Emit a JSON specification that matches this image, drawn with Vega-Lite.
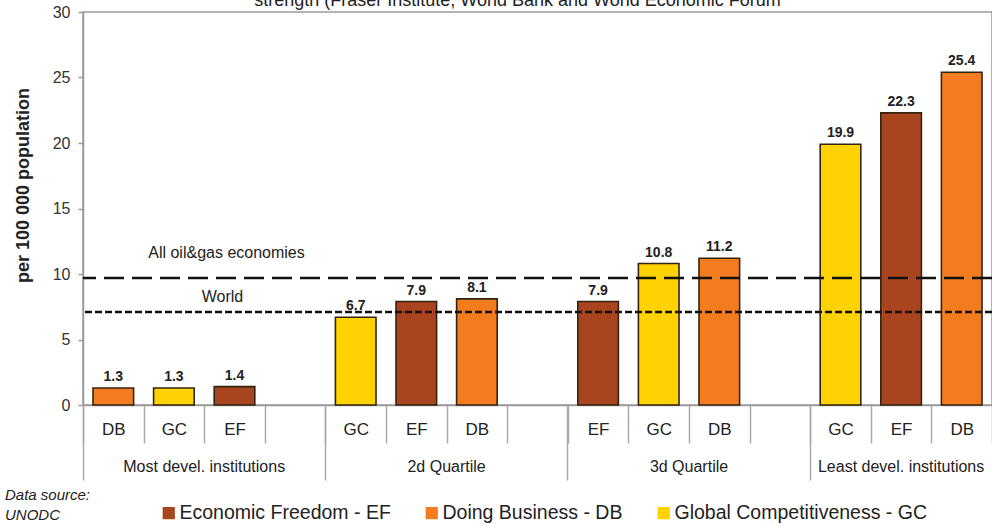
{
  "$schema": "https://vega.github.io/schema/vega-lite/v6.json",
  "autosize": "none",
  "width": 909,
  "height": 393,
  "padding": {"left": 83, "top": 12, "right": 0, "bottom": 119},
  "background": "white",
  "config": {
    "font": "Liberation Sans",
    "view": {"stroke": "#9a9a9a", "strokeWidth": 1.5}
  },
  "title": {
    "text": "strength (Fraser Institute, World Bank and World Economic Forum",
    "fontSize": 18,
    "fontWeight": "normal",
    "color": "#222222",
    "anchor": "middle",
    "dx": -20,
    "offset": -20,
    "baseline": "alphabetic"
  },
  "datasets": {
    "bars": [
      {"slot": "1 DB", "code": "DB", "series": "Doing Business - DB", "value": 1.3},
      {"slot": "1 GC", "code": "GC", "series": "Global Competitiveness - GC", "value": 1.3},
      {"slot": "1 EF", "code": "EF", "series": "Economic Freedom - EF", "value": 1.4},
      {"slot": "2 GC", "code": "GC", "series": "Global Competitiveness - GC", "value": 6.7},
      {"slot": "2 EF", "code": "EF", "series": "Economic Freedom - EF", "value": 7.9},
      {"slot": "2 DB", "code": "DB", "series": "Doing Business - DB", "value": 8.1},
      {"slot": "3 EF", "code": "EF", "series": "Economic Freedom - EF", "value": 7.9},
      {"slot": "3 GC", "code": "GC", "series": "Global Competitiveness - GC", "value": 10.8},
      {"slot": "3 DB", "code": "DB", "series": "Doing Business - DB", "value": 11.2},
      {"slot": "4 GC", "code": "GC", "series": "Global Competitiveness - GC", "value": 19.9},
      {"slot": "4 EF", "code": "EF", "series": "Economic Freedom - EF", "value": 22.3},
      {"slot": "4 DB", "code": "DB", "series": "Doing Business - DB", "value": 25.4}
    ],
    "refs": [
      {"name": "All oil&gas economies", "value": 9.7},
      {"name": "World", "value": 7.1}
    ]
  },
  "encoding": {
    "y": {
      "field": "value",
      "type": "quantitative",
      "scale": {"domain": [0, 30], "nice": false, "zero": true},
      "axis": {
        "title": "per 100 000 population",
        "titleFontSize": 18,
        "titleFontWeight": "bold",
        "titleColor": "#222222",
        "titlePadding": 20,
        "titleY": 173,
        "values": [0, 5, 10, 15, 20, 25, 30],
        "labelFontSize": 16,
        "labelColor": "#333333",
        "labelPadding": 8,
        "tickSize": 5,
        "tickColor": "#9a9a9a",
        "tickWidth": 1.5,
        "domainColor": "#9a9a9a",
        "domainWidth": 1.5,
        "grid": false
      }
    }
  },
  "layer": [
    {
      "data": {"name": "bars"},
      "mark": {"type": "bar", "width": {"band": 0.67}, "stroke": "#33240f", "strokeWidth": 1.6},
      "encoding": {
        "x": {
          "field": "slot",
          "type": "nominal",
          "scale": {
            "domain": ["1 DB", "1 GC", "1 EF", "1 -", "2 GC", "2 EF", "2 DB", "2 -", "3 EF", "3 GC", "3 DB", "3 -", "4 GC", "4 EF", "4 DB"],
            "paddingInner": 0,
            "paddingOuter": 0
          },
          "axis": {
            "orient": "bottom",
            "title": null,
            "labelExpr": "split(datum.value, ' ')[1] == '-' ? '' : split(datum.value, ' ')[1]",
            "labelAngle": 0,
            "labelFontSize": 17,
            "labelColor": "#222222",
            "labelPadding": -22,
            "tickBand": "extent",
            "tickSize": 38,
            "tickColor": "#aaaaaa",
            "tickWidth": 1.5,
            "domainColor": "#9a9a9a",
            "domainWidth": 1.5
          }
        },
        "color": {
          "field": "series",
          "type": "nominal",
          "scale": {
            "domain": ["Economic Freedom - EF", "Doing Business - DB", "Global Competitiveness - GC"],
            "range": ["#A8451E", "#F47C20", "#FFD200"]
          },
          "legend": {
            "orient": "none",
            "legendX": -78,
            "legendY": 491,
            "direction": "horizontal",
            "title": ["Data source:", "UNODC"],
            "titleOrient": "left",
            "titleAnchor": "end",
            "titleFontStyle": "italic",
            "titleFontWeight": "normal",
            "titleFontSize": 15,
            "titleColor": "#222222",
            "titleLineHeight": 20,
            "titlePadding": 68,
            "symbolType": "square",
            "symbolSize": 150,
            "symbolStrokeWidth": 0,
            "labelFontSize": 19.5,
            "labelLimit": 400,
            "labelColor": "#222222",
            "labelOffset": 1,
            "columnPadding": 31
          }
        }
      }
    },
    {
      "data": {"name": "bars"},
      "mark": {"type": "text", "fontWeight": "bold", "fontSize": 14, "color": "#222222", "baseline": "alphabetic", "dy": -7},
      "encoding": {
        "x": {
          "field": "slot",
          "type": "nominal",
          "axis": {
            "orient": "bottom",
            "title": null,
            "values": ["1 DB", "2 GC", "3 EF", "4 GC"],
            "bandPosition": 0,
            "labelExpr": "datum.value == '1 DB' ? 'Most devel. institutions' : datum.value == '2 GC' ? '2d Quartile' : datum.value == '3 EF' ? '3d Quartile' : 'Least devel. institutions'",
            "labelAngle": 0,
            "labelFontSize": 16,
            "labelColor": "#222222",
            "labelOffset": {"condition": {"test": "datum.value == '4 GC'", "value": 60.6}, "value": 90.9},
            "labelPadding": -22,
            "tickSize": 75,
            "tickColor": "#aaaaaa",
            "tickWidth": 1.5,
            "domain": false
          }
        },
        "text": {"field": "value", "type": "quantitative", "format": ".1f"}
      }
    },
    {
      "data": {"name": "refs"},
      "mark": {"type": "rule", "strokeWidth": 2.5, "color": "#111111"},
      "encoding": {
        "strokeDash": {
          "field": "name",
          "type": "nominal",
          "scale": {"domain": ["All oil&gas economies", "World"], "range": [[20, 8], [7, 3]]},
          "legend": null
        }
      }
    },
    {
      "data": {"name": "refs"},
      "transform": [{"filter": "datum.name == 'All oil&gas economies'"}],
      "mark": {"type": "text", "fontSize": 16, "color": "#222222", "baseline": "alphabetic", "dy": -20, "dx": -8},
      "encoding": {
        "x": {"datum": "1 EF", "type": "nominal", "axis": null},
        "text": {"field": "name", "type": "nominal"}
      }
    },
    {
      "data": {"name": "refs"},
      "transform": [{"filter": "datum.name == 'World'"}],
      "mark": {"type": "text", "fontSize": 16, "color": "#222222", "baseline": "alphabetic", "dy": -10, "dx": -12},
      "encoding": {
        "x": {"datum": "1 EF", "type": "nominal", "axis": null},
        "text": {"field": "name", "type": "nominal"}
      }
    }
  ],
  "resolve": {"axis": {"x": "independent"}}
}
